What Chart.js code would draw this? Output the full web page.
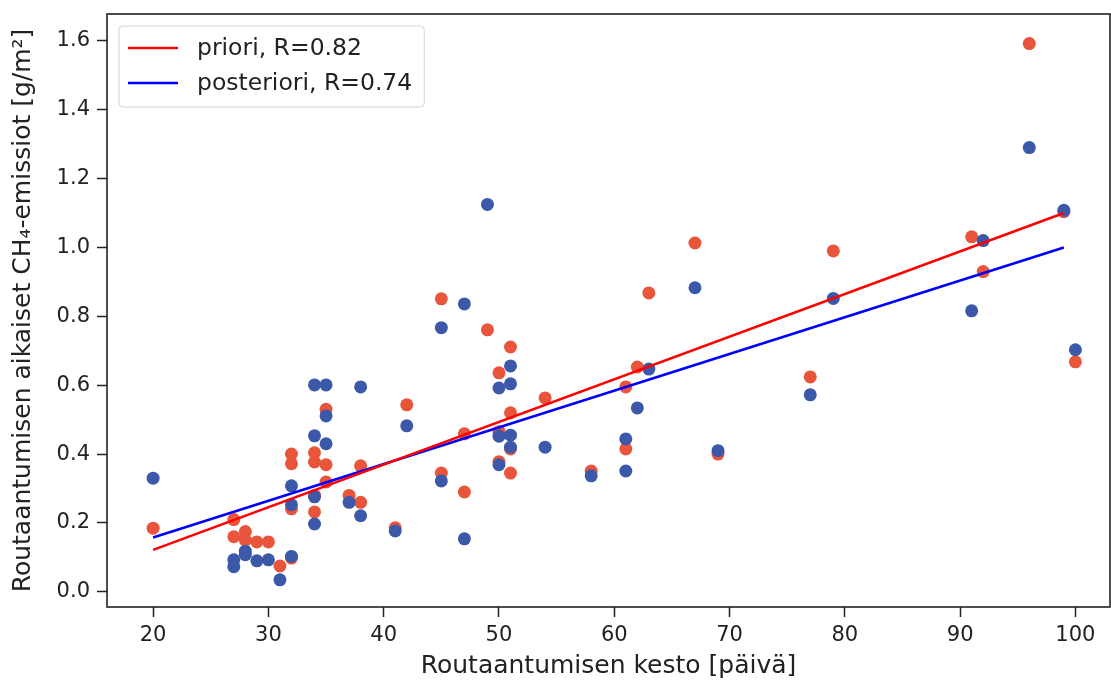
<!DOCTYPE html>
<html>
<head>
<meta charset="utf-8">
<script src="https://cdn.jsdelivr.net/npm/chart.js@4.4.0/dist/chart.umd.min.js"></script>
<style>
  body { margin: 0; background: #fff; }
  canvas { display: block; }
</style>
</head>
<body>
<canvas id="chart" width="1111" height="682"></canvas>
<script>
// priori estimates
const prioriDays = [20, 27, 27, 28, 28, 29, 30, 31, 32, 32, 32, 32, 34, 34, 34, 34, 35, 35, 35, 37, 38, 38, 41, 42,
  45, 45, 47, 47, 49, 50, 50, 50, 51, 51, 51, 51, 54, 58, 61, 61, 62, 63, 67, 69, 77, 79, 91, 92, 96, 99, 100];
const prioriValues = [0.185, 0.21, 0.16, 0.175, 0.15, 0.145, 0.145, 0.075, 0.40, 0.372, 0.241, 0.098,
  0.404, 0.377, 0.28, 0.232, 0.53, 0.369, 0.319, 0.28, 0.366, 0.26, 0.186, 0.543,
  0.851, 0.345, 0.459, 0.29, 0.761, 0.636, 0.465, 0.378, 0.711, 0.52, 0.415, 0.345,
  0.563, 0.351, 0.595, 0.415, 0.653, 0.868, 1.013, 0.40, 0.624, 0.99, 1.031, 0.93, 1.592, 1.104, 0.668];

// posteriori estimates
const posterioriDays = [20, 27, 27, 28, 28, 29, 30, 31, 32, 32, 32, 34, 34, 34, 34, 35, 35, 35, 37, 38, 38, 41, 42,
  45, 45, 47, 47, 49, 50, 50, 50, 51, 51, 51, 51, 54, 58, 61, 61, 62, 63, 67, 69, 77, 79, 91, 92, 96, 99, 100];
const posterioriValues = [0.33, 0.093, 0.073, 0.118, 0.108, 0.09, 0.093, 0.035, 0.308, 0.253, 0.103,
  0.601, 0.453, 0.276, 0.197, 0.601, 0.511, 0.43, 0.26, 0.595, 0.221, 0.177, 0.482,
  0.767, 0.322, 0.836, 0.154, 1.125, 0.592, 0.452, 0.369, 0.656, 0.604, 0.455, 0.42,
  0.42, 0.337, 0.444, 0.351, 0.534, 0.647, 0.883, 0.41, 0.572, 0.852, 0.816, 1.02, 1.29, 1.108, 0.703];

// regression lines (end points)
const fitDays = [20, 99];
const prioriFit = [0.122, 1.10];
const posterioriFit = [0.158, 1.00];

const xTicks = [20, 30, 40, 50, 60, 70, 80, 90, 100];
const yTicks = [0, 0.2, 0.4, 0.6, 0.8, 1.0, 1.2, 1.4, 1.6];

const pts = (xs, ys) => xs.map((x, i) => ({x: x, y: ys[i]}));

Chart.defaults.font.family = '"DejaVu Sans", sans-serif';
Chart.defaults.color = '#222';

// frame around the axes + matplotlib-like legend box
const frameLegend = {
  id: 'frameLegend',
  afterDraw(chart) {
    const {ctx, chartArea: a} = chart;
    ctx.save();
    ctx.strokeStyle = '#222';
    ctx.lineWidth = 1.6;
    ctx.strokeRect(a.left, a.top, a.right - a.left, a.bottom - a.top);

    const items = chart.data.datasets.filter(d => d.type === 'line');
    ctx.font = '23.5px "DejaVu Sans"';
    const textW = Math.max(...items.map(d => ctx.measureText(d.label).width));
    const bx = a.left + 12, by = a.top + 12;
    const bw = 9 + 50 + 19 + textW + 12, bh = 81;
    ctx.beginPath();
    ctx.roundRect(bx, by, bw, bh, 4);
    ctx.fillStyle = 'rgba(255,255,255,0.8)';
    ctx.fill();
    ctx.strokeStyle = '#d4d4d4';
    ctx.lineWidth = 1;
    ctx.stroke();

    ctx.textBaseline = 'middle';
    items.forEach((d, i) => {
      const y = by + 22 + i * 35;
      ctx.strokeStyle = d.borderColor;
      ctx.lineWidth = 2.5;
      ctx.beginPath();
      ctx.moveTo(bx + 9, y);
      ctx.lineTo(bx + 59, y);
      ctx.stroke();
      ctx.fillStyle = '#222';
      ctx.fillText(d.label, bx + 78, y + 1);
    });
    ctx.restore();
  }
};

const tickGrid = {drawOnChartArea: false, drawTicks: true, tickLength: 10, tickWidth: 1.5, tickColor: '#222'};

new Chart(document.getElementById('chart'), {
  type: 'scatter',
  data: {
    datasets: [
      {
        type: 'line',
        label: 'priori, R=0.82',
        data: pts(fitDays, prioriFit),
        borderColor: '#ff0000',
        borderWidth: 2.5,
        pointRadius: 0,
        fill: false,
        order: 0
      },
      {
        type: 'line',
        label: 'posteriori, R=0.74',
        data: pts(fitDays, posterioriFit),
        borderColor: '#0000ff',
        borderWidth: 2.5,
        pointRadius: 0,
        fill: false,
        order: 0
      },
      {
        label: 'priori',
        data: pts(prioriDays, prioriValues),
        backgroundColor: '#e8553a',
        borderWidth: 0,
        pointRadius: 6.5,
        order: 2
      },
      {
        label: 'posteriori',
        data: pts(posterioriDays, posterioriValues),
        backgroundColor: '#3c58a8',
        borderWidth: 0,
        pointRadius: 6.5,
        order: 1
      }
    ]
  },
  options: {
    responsive: false,
    animation: false,
    events: [],
    layout: {autoPadding: false, padding: {top: 14, right: 1, left: 0, bottom: 0}},
    plugins: {legend: {display: false}, tooltip: {enabled: false}},
    scales: {
      x: {
        type: 'linear',
        min: 16,
        max: 103,
        afterBuildTicks: s => { s.ticks = xTicks.map(v => ({value: v})); },
        afterFit: s => { s.height = 75; s.paddingLeft = 0; s.paddingRight = 0; },
        grid: tickGrid,
        border: {display: false},
        ticks: {font: {size: 21}, padding: 6, maxRotation: 0, callback: v => String(v)},
        title: {
          display: true,
          text: 'Routaantumisen kesto [päivä]',
          font: {size: 25},
          padding: {top: 0, bottom: 1}
        }
      },
      y: {
        type: 'linear',
        min: -0.044,
        max: 1.678,
        afterBuildTicks: s => { s.ticks = yTicks.map(v => ({value: v})); },
        afterFit: s => { s.width = 107; s.paddingTop = 0; s.paddingBottom = 0; },
        grid: tickGrid,
        border: {display: false},
        ticks: {font: {size: 21}, padding: 7, callback: v => v.toFixed(1)},
        title: {
          display: true,
          text: 'Routaantumisen aikaiset CH₄-emissiot [g/m²]',
          font: {size: 25},
          padding: {top: 8, bottom: 0}
        }
      }
    }
  },
  plugins: [frameLegend]
});
</script>
</body>
</html>
